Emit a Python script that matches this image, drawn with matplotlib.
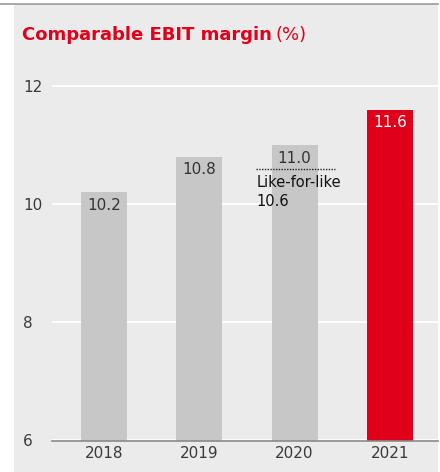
import matplotlib
matplotlib.use("Agg")
import matplotlib.pyplot as plt
from matplotlib.patches import Rectangle
from matplotlib.lines import Line2D

years = ["2018", "2019", "2020", "2021"]
values = [10.2, 10.8, 11.0, 11.6]
bar_colors = ["#c6c7c6", "#c6c7c6", "#c6c7c6", "#e0001a"]
label_colors = ["#333333", "#333333", "#333333", "#ffffff"]
lfl_value = 10.6
lfl_label = "Like-for-like"
y_ticks = [6, 8, 10, 12]

W, H = 440, 472
fig = plt.figure(figsize=(W / 100, H / 100), dpi=100)
fig.patch.set_facecolor("white")

# panel background and top rule
fig.add_artist(Rectangle((14 / W, 0), (438 - 14) / W, (H - 4) / H,
                         transform=fig.transFigure, facecolor="#ebebeb",
                         edgecolor="none", zorder=0))
fig.add_artist(Line2D([0, 438 / W], [1 - 4 / H, 1 - 4 / H], transform=fig.transFigure,
                      color="#9a9a9a", lw=1.2, zorder=1))

ax = fig.add_axes([52 / W, (H - 440.5) / H, 386 / W, (440.5 - 68.3) / H])
ax.set_facecolor("none")

x = list(range(len(years)))
bars = ax.bar(x, values, width=0.4825, color=bar_colors, zorder=3)
ax.set_ylim(6, 12.3)
ax.set_xlim(-0.545, 3.504)

ax.set_yticks(y_ticks)
ax.set_yticklabels([str(t) for t in y_ticks])
for lab in ax.get_yticklabels():
    lab.set_horizontalalignment("left")
ax.tick_params(axis="y", length=0, pad=21, labelsize=11, labelcolor="#3a3a3a")
ax.set_xticks(x)
ax.set_xticklabels(years)
ax.tick_params(axis="x", length=0, pad=4, labelsize=11, labelcolor="#3a3a3a")
ax.grid(axis="y", color="white", lw=1.3, zorder=1)
for s in ["top", "right", "left"]:
    ax.spines[s].set_visible(False)
ax.spines["bottom"].set_color("#8a8a8a")
ax.spines["bottom"].set_linewidth(1.2)
ax.spines["bottom"].set_zorder(4)

for xi, v, c in zip(x, values, label_colors):
    ax.annotate(f"{v:.1f}", (xi, v), xytext=(0, -4), textcoords="offset points",
                ha="center", va="top", fontsize=11, color=c, zorder=5)

# like-for-like marker on 2020
ax.plot([1.6, 2.42], [lfl_value, lfl_value], linestyle=(0, (1, 1)), color="#222222",
        lw=1.0, zorder=5)
ax.annotate(lfl_label, (1.6, lfl_value), xytext=(0, -4.5), textcoords="offset points",
            ha="left", va="top", fontsize=10.5, color="#111111", zorder=5)
ax.annotate(f"{lfl_value:.1f}", (1.6, lfl_value), xytext=(0, -18.5), textcoords="offset points",
            ha="left", va="top", fontsize=10.5, color="#111111", zorder=5)

# title
t1 = fig.text(22 / W, 1 - 40 / H, "Comparable EBIT margin", fontsize=13,
              fontweight="bold", color="#e0001a", ha="left", va="baseline")
fig.canvas.draw()
bb = t1.get_window_extent()
fig.text(bb.x1 / W + 4 / W, 1 - 40 / H, "(%)", fontsize=13, color="#e0001a",
         ha="left", va="baseline")

fig.savefig("out.png", dpi=100)
